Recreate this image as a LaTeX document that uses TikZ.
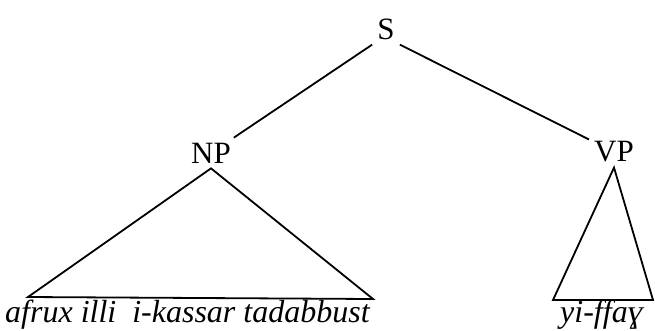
\documentclass[tikz,border=0pt]{standalone}
\usepackage{fontspec}
\setmainfont{Liberation Serif}
\usetikzlibrary{positioning,calc}

\begin{document}
\begin{tikzpicture}[x=1pt,y=-1pt,
    cat/.style={font=\fontsize{31}{36}\selectfont,inner sep=5pt},
    leaf/.style={font=\fontsize{32}{36}\selectfont\itshape,inner sep=0pt},
    branch/.style={line width=1.8pt,line join=miter}]
  \useasboundingbox (0,0) rectangle (655,330);
  % categories
  \node[cat] (s) at (386,29) {S};
  \node[cat] (np) at (211,153) {NP};
  \node[cat] (vp) at (614,152) {VP};
  % leaves
  \node[leaf,anchor=base west] (npleaf) at (5,322) {afrux illi\ \ i-kassar tadabbust};
  \node[leaf,anchor=base west] (vpleaf) at (560,322) {yi-ffaɣ};
  \coordinate (npl) at (28,297);
  \coordinate (npr) at (373,299);
  \coordinate (vpl) at (553,300);
  \coordinate (vpr) at (653,300);
  % branches
  \draw[branch] (s.south west) -- (np);
  \draw[branch] (s.south east) -- (vp);
  \draw[branch] (np.south) -- (npl) -- (npr) -- cycle;
  \draw[branch] (vp.south) -- (vpl) -- (vpr) -- cycle;
\end{tikzpicture}
\end{document}
